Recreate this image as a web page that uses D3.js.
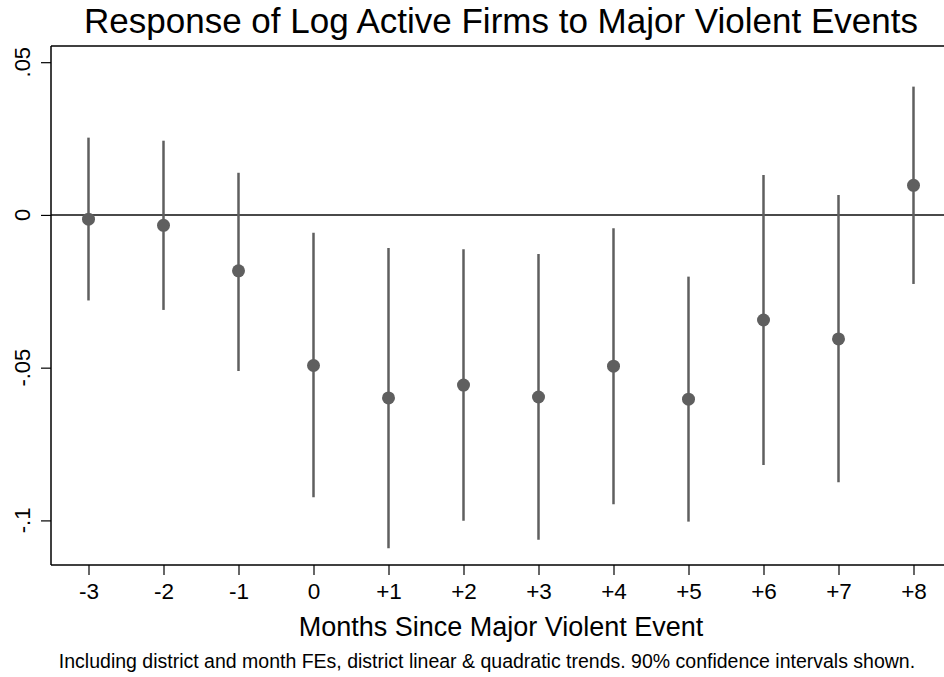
<!DOCTYPE html>
<html lang="en">
<head>
    <meta charset="UTF-8">
    <title>Response of Log Active Firms</title>
    <style>
        body { margin: 0; background: #fff; }
        text { font-family: "Liberation Sans", Arial, Helvetica, sans-serif; fill: #000; }
    </style>
</head>
<body>
    <div id="chart"></div>
    <script src="https://cdnjs.cloudflare.com/ajax/libs/d3/7.8.5/d3.min.js"></script>
    <script>
        // event-study coefficients and 90% CIs
        const months = [-3, -2, -1, 0, 1, 2, 3, 4, 5, 6, 7, 8]
        const coef  = [-0.0014, -0.0034, -0.0183, -0.0493, -0.0599, -0.0557, -0.0596, -0.0495, -0.0603, -0.0344, -0.0406, 0.0097]
        const ciLow = [-0.0280, -0.0311, -0.0511, -0.0924, -0.1091, -0.1001, -0.1063, -0.0947, -0.1004, -0.0819, -0.0875, -0.0226]
        const ciHigh = [0.0253, 0.0243, 0.0138, -0.0058, -0.0108, -0.0112, -0.0128, -0.0044, -0.0202, 0.0131, 0.0065, 0.0420]
        const yTicks = [0.05, 0, -0.05, -0.1]
        const yTickLabels = ['.05', '0', '-.05', '-.1']
        const xTickLabels = ['-3', '-2', '-1', '0', '+1', '+2', '+3', '+4', '+5', '+6', '+7', '+8']

        const [width, height] = [944, 677]
        const plot = {left: 51, top: 46, right: 951, bottom: 565}

        const svg = d3.select('#chart').append('svg')
            .attr('width', width)
            .attr('height', height)

        const x = d3.scaleLinear().domain([-3.5, 8.5]).range([plot.left, plot.right])
        const y = d3.scaleLinear().domain([-0.1146, 0.0553]).range([plot.bottom, plot.top])

        const grey = '#5f5f5f'

        // box top line
        svg.append('line')
            .attr('x1', plot.left).attr('x2', plot.right)
            .attr('y1', plot.top).attr('y2', plot.top)
            .attr('stroke', '#000').attr('stroke-width', 1.5)

        // zero reference line
        svg.append('line')
            .attr('x1', plot.left).attr('x2', plot.right)
            .attr('y1', y(0)).attr('y2', y(0))
            .attr('stroke', '#4a4a4a').attr('stroke-width', 2)

        // y axis
        const yAxis = svg.append('g')
            .attr('transform', `translate(${plot.left},0)`)
            .call(d3.axisLeft(y).tickValues(yTicks).tickSize(10).tickFormat(''))
        yAxis.select('.domain').attr('stroke', '#000').attr('stroke-width', 1.5)
            .attr('d', `M0,${plot.top}V${plot.bottom}`)
        yAxis.selectAll('.tick line').attr('stroke', '#000').attr('stroke-width', 1.2)

        svg.selectAll('.ylab')
            .data(yTicks)
            .join('text')
            .attr('class', 'ylab')
            .attr('transform', d => `translate(29.5,${y(d)}) rotate(-90)`)
            .attr('text-anchor', 'middle')
            .style('font-size', '22px')
            .text((d, i) => yTickLabels[i])

        // x axis
        const xAxis = svg.append('g')
            .attr('transform', `translate(0,${plot.bottom})`)
            .call(d3.axisBottom(x).tickValues(months).tickSize(10)
                .tickFormat((d, i) => xTickLabels[i]))
        xAxis.select('.domain').attr('stroke', '#000').attr('stroke-width', 1.5)
            .attr('d', `M${plot.left},0H${plot.right}`)
        xAxis.selectAll('.tick line').attr('stroke', '#000').attr('stroke-width', 1.2)
        xAxis.selectAll('.tick text')
            .attr('y', 34).attr('dy', 0)
            .style('font-size', '22.5px')
            .style('font-family', '"Liberation Sans", Arial, sans-serif')
            .attr('fill', '#000')

        // confidence intervals
        svg.selectAll('.ci')
            .data(months)
            .join('line')
            .attr('class', 'ci')
            .attr('x1', d => x(d)).attr('x2', d => x(d))
            .attr('y1', (d, i) => y(ciLow[i]))
            .attr('y2', (d, i) => y(ciHigh[i]))
            .attr('stroke', grey).attr('stroke-width', 2.5)

        // point estimates
        svg.selectAll('.dot')
            .data(months)
            .join('circle')
            .attr('class', 'dot')
            .attr('cx', d => x(d))
            .attr('cy', (d, i) => y(coef[i]))
            .attr('r', 6.5)
            .attr('fill', grey)

        // titles
        svg.append('text')
            .attr('x', 501).attr('y', 33)
            .attr('text-anchor', 'middle')
            .style('font-size', '35px')
            .text('Response of Log Active Firms to Major Violent Events')

        svg.append('text')
            .attr('x', 501).attr('y', 636)
            .attr('text-anchor', 'middle')
            .style('font-size', '27px')
            .text('Months Since Major Violent Event')

        svg.append('text')
            .attr('x', 487).attr('y', 668)
            .attr('text-anchor', 'middle')
            .style('font-size', '19.5px')
            .text('Including district and month FEs, district linear & quadratic trends. 90% confidence intervals shown.')
    </script>
</body>
</html>
